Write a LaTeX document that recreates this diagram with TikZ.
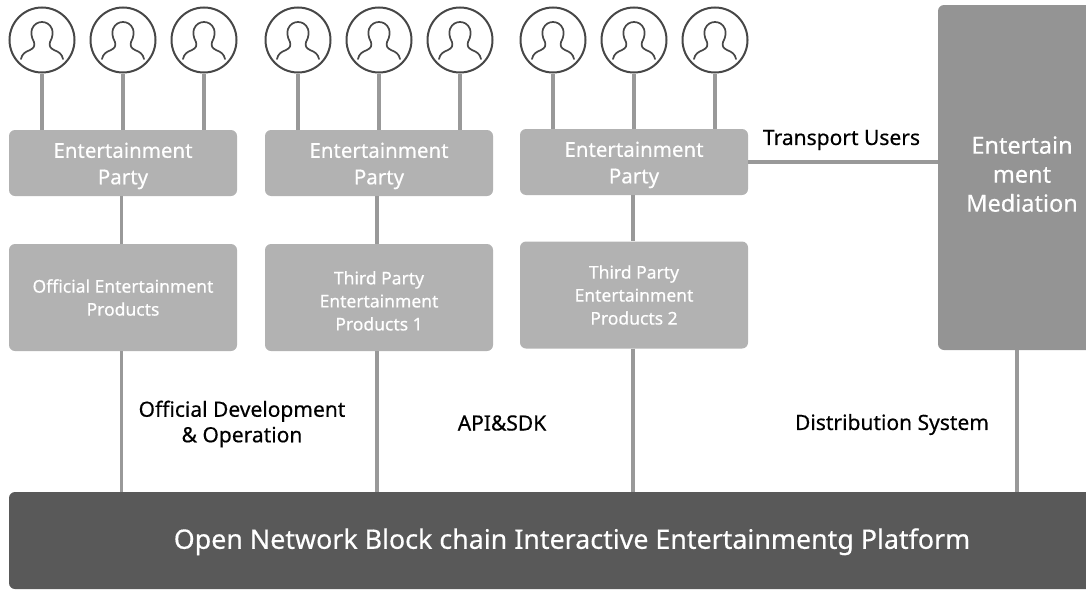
\documentclass[tikz,border=0pt]{standalone}
\usepackage{fontspec}
\setmainfont{Noto Sans}[FakeBold=0.45]
\usetikzlibrary{calc}

\newcommand{\topgap}[1]{\rule{0pt}{#1}}

\begin{document}
\begin{tikzpicture}[x=1pt,y=-1pt,
  textup/.style = {execute at end node={\rule[-#1]{0pt}{0pt}}},
  user/.style = {circle,draw=black!72,line width=2pt,fill=white,minimum size = 65pt,inner sep=0pt,
    path picture={\draw[black!72,line width=1.7pt,line cap=round,shift={(path picture bounding box.center)}]
      (-21,19) .. controls (-20,14) and (-17,12) .. (-12,10) .. controls (-8,8) and (-7,6) .. (-8,2)
      .. controls (-11,-3) and (-11,-8) .. (-10,-11) .. controls (-8,-16) and (-4,-18) .. (0,-18)
      .. controls (4,-18) and (8,-16) .. (10,-11) .. controls (11,-8) and (11,-3) .. (8,2)
      .. controls (7,6) and (8,8) .. (12,10) .. controls (17,12) and (20,14) .. (21,19);}},
  party/.style = {rectangle,rounded corners=6pt,fill=black!30,text=white,align=center,
    minimum width=228pt,minimum height=66pt,inner sep=0pt,font=\fontsize{20.5}{26.5}\selectfont},
  product/.style = {rectangle,rounded corners=6pt,fill=black!30,text=white,align=center,
    minimum width=228pt,minimum height=107pt,inner sep=0pt,font=\fontsize{17.5}{23}\selectfont},
  link/.style = {draw=black!40,line width=3.6pt},
  caption/.style = {text=black,align=center,inner sep=0pt,font=\fontsize{21}{25.5}\selectfont}]

\useasboundingbox (0,0) rectangle (1086,589);

\node[rectangle,rounded corners=6pt,fill=black!42,text=white,align=center,minimum width=168pt,minimum height=345pt,inner sep=0pt,textup=7pt,font=\fontsize{23.5}{29}\selectfont] (mediation) at (1022, 177.5) {Entertain\\ment\\Mediation};
\node[rectangle,rounded corners=6pt,fill=black!65,text=white,minimum width=1126pt,minimum height=97pt,inner sep=0pt,font=\fontsize{26.8}{30}\selectfont] (platform) at (572, 540.5) {\topgap{23pt}Open Network Block chain Interactive Entertainmentg Platform};

\node[party] (party1) at (123, 163) {\topgap{21pt}Entertainment\\Party};
\node[party] (party2) at (379, 163) {\topgap{21pt}Entertainment\\Party};
\node[party] (party3) at (634, 162) {\topgap{21pt}Entertainment\\Party};

\node[product] (official) at (123, 297.5) {Official Entertainment\\Products};
\node[product] (third1) at (379, 297.5) {\topgap{20pt}Third Party\\Entertainment\\Products 1};
\node[product] (third2) at (634, 295) {Third Party\\Entertainment\\Products 2};

\node[user] (user1) at (42, 40) {};
\node[user] (user2) at (123, 40) {};
\node[user] (user3) at (204, 40) {};

\node[user] (user4) at (298, 40) {};
\node[user] (user5) at (379, 40) {};
\node[user] (user6) at (460, 40) {};

\node[user] (user7) at (553, 40) {};
\node[user] (user8) at (634, 40) {};
\node[user] (user9) at (715, 40) {};

\draw[link] (user1) -- (user1 |- party1.north);
\draw[link] (user2) -- (user2 |- party1.north);
\draw[link] (user3) -- (user3 |- party1.north);
\draw[link] (user4) -- (user4 |- party2.north);
\draw[link] (user5) -- (user5 |- party2.north);
\draw[link] (user6) -- (user6 |- party2.north);
\draw[link] (user7) -- (user7 |- party3.north);
\draw[link] (user8) -- (user8 |- party3.north);
\draw[link] (user9) -- (user9 |- party3.north);

\draw[link] ([xshift=-1.5pt]party1.south) -- ([xshift=-1.5pt]official.north);
\draw[link] ([xshift=-2pt]party2.south) -- ([xshift=-2pt]third1.north);
\draw[link] ([xshift=-1pt]party3.south) -- ([xshift=-1pt]third2.north);
\draw[link] ([xshift=-1.5pt]official.south) -- ([xshift=-1.5pt]official.south |- platform.north);
\draw[link] ([xshift=-2pt]third1.south) -- ([xshift=-2pt]third1.south |- platform.north);
\draw[link] ([xshift=-1pt]third2.south) -- ([xshift=-1pt]third2.south |- platform.north);
\draw[link] (party3) -- (mediation.west |- party3);
\draw[link] ($(mediation.south)+(-5,0)$) -- ($(mediation.south |- platform.north)+(-5,0)$);

\node[caption] (transport) at (841.5, 140) {Transport Users};
\node[caption] (official dev) at (242, 424) {Official Development\\\& Operation};
\node[caption] (api) at (502, 423) {API\&SDK};
\node[caption] (distribution) at (892, 424.5) {Distribution System};

\end{tikzpicture}
\end{document}
